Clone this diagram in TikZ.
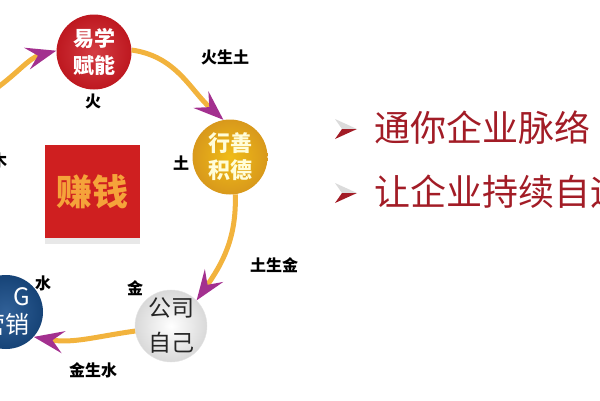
\documentclass[tikz,border=0pt]{standalone}
\usepackage{fontspec}
\setmainfont{Noto Sans CJK SC}
\usepackage{xcolor}
\definecolor{firered}{HTML}{CC1A22}
\definecolor{earthgold}{HTML}{EBA61E}
\definecolor{waterblue}{HTML}{1A4F8C}
\definecolor{flowyellow}{HTML}{F2B33D}
\definecolor{headpurple}{HTML}{A3308F}
\definecolor{slogred}{HTML}{A21C26}
\definecolor{moneytext}{HTML}{F5A33A}
\usepackage{tikz}
\usetikzlibrary{positioning,arrows.meta,shadows}

\begin{document}
\begin{tikzpicture}[x=1pt,y=1pt,
  every node/.style={align=center},
  phase/.style={circle,minimum size=75pt,inner sep=0pt,
              font=\fontsize{21}{27}\selectfont\bfseries},
  fire/.style={phase,shading=radial,inner color=firered!85!white,
              outer color=firered!93!black,text=white},
  earth/.style={phase,shading=radial,inner color=earthgold!75!yellow,
              outer color=earthgold!92!black,text=yellow!15!white,
              font=\fontsize{22}{27}\selectfont\bfseries},
  metal/.style={phase,minimum size=70pt,shading=radial,inner color=white,
              outer color=black!15,draw=black!10,text=black!85,
              font=\fontsize{23}{35}\selectfont},
  water/.style={phase,minimum size=74pt,shading=radial,
              inner color=waterblue!90!white,outer color=waterblue!85!black,
              text=white,font=\fontsize{24}{28}\selectfont},
  moneybox/.style={fill=firered!95!orange,minimum width=95pt,minimum height=93pt,
              inner sep=0pt,text=moneytext,font=\fontsize{36}{36}\selectfont\bfseries,
              drop shadow={opacity=0.18,shadow xshift=0pt,shadow yshift=-6pt}},
  tag/.style={font=\fontsize{16}{16}\selectfont\bfseries,text=black,inner sep=0pt},
  slogan/.style={font=\fontsize{36}{36}\selectfont,text=slogred,inner sep=0pt,
              anchor=west},
  flow/.style={line width=5pt,draw=flowyellow,
              -{Stealth[length=30pt,width=22pt,inset=11pt,color=headpurple]}},
  bulmark/.pic={
    \fill[black!14] (0,0) -- (-22,10) -- (-15,0) -- cycle;
    \fill[slogred] (0,0) -- (-22,-10) -- (-15,0) -- cycle;
  },
]
\useasboundingbox (0,0) rectangle (600,-400);
\clip (0,0) rectangle (600,-400);

% --- the five phases round the ring
\node[fire]  (yxfn) at (94,-52)   {易学\\赋能};
\node[earth] (xsjd) at (230,-157) {行善\\积德};
\node[metal] (gszj) at (171,-326) {公司\\自己};
\node[water,align=right] (wxyx) at (6,-312) {G\\营销};
\coordinate (woodend) at (-6,-90);

% --- centre box
\node[moneybox] (zq) at (92.5,-191.5) {赚钱};

% --- element tags
\node[tag] (firetag)  at (93,-101)  {火};
\node[tag] (earthtag) at (181,-163) {土};
\node[tag] (metaltag) at (135,-288) {金};
\node[tag] (watertag) at (43,-283)  {水};
\node[tag] (woodtag)  at (-1,-160)  {木};
\node[tag] (fe) at (225,-57)  {火生土};
\node[tag] (em) at (274,-265) {土生金};
\node[tag] (mw) at (93,-370)  {金生水};

% --- ring arrows
\draw[flow] (woodend) to[out=35,in=195] (yxfn.178);
\draw[flow] (yxfn.3) to[out=-8,in=138] (xsjd.100);
\draw[flow] (xsjd.-82) to[out=-88,in=55] (gszj.45);
\draw[flow] (gszj.188) to[out=188,in=-10] (wxyx.-42);

% --- slogans
\pic at (357,-129) {bulmark};
\node[slogan] (slog1) at (374,-128) {通你企业脉络};
\pic at (357,-193) {bulmark};
\node[slogan] (slog2) at (374,-192) {让企业持续自运};

\end{tikzpicture}
\end{document}
